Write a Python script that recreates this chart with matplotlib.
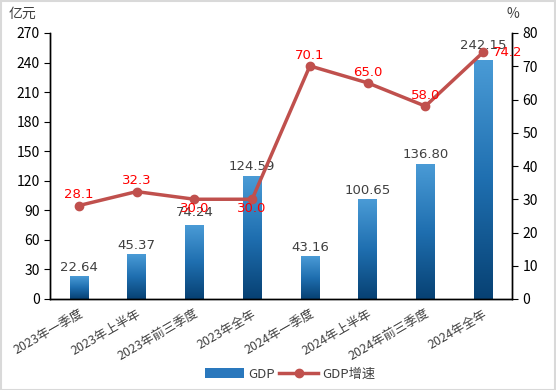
import matplotlib
matplotlib.use("Agg")
import matplotlib.pyplot as plt
import numpy as np
from matplotlib.colors import LinearSegmentedColormap
from matplotlib.patches import Rectangle, Patch
from matplotlib.lines import Line2D

plt.rcParams['font.family'] = ['Noto Sans CJK SC', 'DejaVu Sans']

categories = ["2023年一季度", "2023年上半年", "2023年前三季度", "2023年全年",
              "2024年一季度", "2024年上半年", "2024年前三季度", "2024年全年"]
gdp = [22.64, 45.37, 74.24, 124.59, 43.16, 100.65, 136.80, 242.15]
growth = [28.1, 32.3, 30.0, 30.0, 70.1, 65.0, 58.0, 74.2]
# label offsets in points (dx, dy) for growth labels
growth_offsets = [(0, 3), (0, 3), (0, -2), (0, -2), (0, 3), (0, 3), (0, 3), (18, 0)]
# label offsets in points for GDP labels
gdp_offsets = [2, 2, 5, 2, 2, 2, 2, 6]

fig = plt.figure(figsize=(5.56, 3.9), dpi=100)
ax = fig.add_axes([50/556, 1-299/390, 462/556, 266/390])
ax2 = ax.twinx()

x = np.arange(len(categories))
w = 0.32
cmap = LinearSegmentedColormap.from_list("g", ["#074173", "#1f6fb0", "#4a9bd6"])
grad = np.linspace(0, 1, 256).reshape(-1, 1)
for xi, v, off in zip(x, gdp, gdp_offsets):
    ax.imshow(grad, extent=[xi - w/2, xi + w/2, 0, v], origin='lower',
              aspect='auto', cmap=cmap, zorder=2)
    ax.annotate(f"{v:.2f}", (xi, v), xytext=(0, off), textcoords='offset points',
                ha='center', va='bottom', fontsize=9.5,
                color='#404040', family='DejaVu Sans', zorder=5)

ax.set_xlim(-0.5, len(categories) - 0.5)
ax.set_ylim(0, 270)
ax.set_yticks(np.arange(0, 271, 30))
ax2.set_ylim(0, 80)
ax2.set_yticks(np.arange(0, 81, 10))

ax2.plot(x, growth, color='#c0504d', lw=2.5, marker='o', ms=6, zorder=4)
for xi, g, (dx, dy) in zip(x, growth, growth_offsets):
    va = 'bottom' if dy > 0 else ('top' if dy < 0 else 'center')
    ax2.annotate(f"{g:.1f}", (xi, g), xytext=(dx, dy), textcoords='offset points',
                 ha='center', va=va, fontsize=9.5,
                 color='#ff0000', family='DejaVu Sans', zorder=6)

ax.set_xticks(x)
ax.set_xticklabels(categories, rotation=30, ha='right', rotation_mode='anchor',
                   fontsize=9, color='#404040')
ax.tick_params(axis='x', length=0, pad=6)
ax.tick_params(axis='y', labelsize=10, colors='black', length=4)
ax2.tick_params(axis='y', labelsize=10, colors='black', length=4)
for a in (ax, ax2):
    a.spines['top'].set_visible(False)
    for s in ('left', 'right', 'bottom'):
        a.spines[s].set_color('black')
        a.spines[s].set_linewidth(1)
ax2.patch.set_visible(False)

fig.text(22/556, 1-14/390, "亿元", ha='center', va='center', fontsize=10, color='#404040')
fig.text(513/556, 1-14/390, "%", ha='center', va='center', fontsize=10, color='#404040')

handles = [Patch(facecolor='#2a78bd', edgecolor='none'),
           Line2D([0], [0], color='#c0504d', lw=2.5, marker='o', ms=6)]
fig.legend(handles, ["GDP", "GDP增速"], loc='center', bbox_to_anchor=(290/556, 1-374/390),
           ncol=2, frameon=False, fontsize=9.5, handlelength=3, columnspacing=0.3,
           handletextpad=0.3, labelcolor='#404040')

fig.patches.append(Rectangle((0.001, 0.001), 0.997, 0.997, transform=fig.transFigure,
                             fill=False, edgecolor='#d9d9d9', lw=1.5))
fig.savefig("out.png", dpi=100)
